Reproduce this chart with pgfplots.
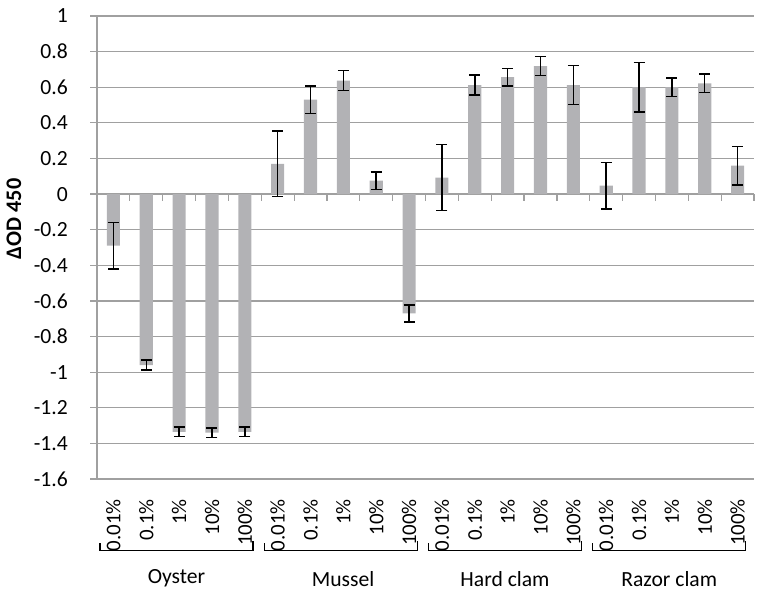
\documentclass[border=0pt]{standalone}
\usepackage{pgfplots}
\usepackage{pgfplotstable}
\pgfplotsset{compat=1.18}
\usepackage{fontspec}
\setmainfont{Carlito}
\definecolor{bargray}{RGB}{178,178,181}
\definecolor{gridgray}{RGB}{160,160,160}
\newcommand{\bigfont}{\fontsize{21.7}{26}\selectfont}
\newcommand{\xfont}{\fontsize{21}{25}\selectfont}

\pgfplotstableread{
x y e
0 -0.29 0.13
1 -0.96 0.028
2 -1.335 0.027
3 -1.34 0.026
4 -1.335 0.026
5 0.17 0.185
6 0.53 0.077
7 0.637 0.056
8 0.075 0.049
9 -0.67 0.047
10 0.092 0.185
11 0.612 0.056
12 0.657 0.049
13 0.719 0.053
14 0.612 0.109
15 0.047 0.13
16 0.60 0.14
17 0.60 0.052
18 0.621 0.052
19 0.16 0.108
}\datatable

\begin{document}
\begin{tikzpicture}
\path[use as bounding box] (0,0) rectangle (764bp,598bp);
\begin{axis}[
  at={(97bp,119bp)}, anchor=south west,
  scale only axis, width=657bp, height=463bp,
  ymin=-1.6, ymax=1, xmin=-0.5, xmax=19.5,
  ytick={-1.6,-1.4,-1.2,-1,-0.8,-0.6,-0.4,-0.2,0,0.2,0.4,0.6,0.8,1},
  /pgf/number format/assume math mode=true,
  xtick={0,...,19},
  xticklabels={0.01\%,0.1\%,1\%,10\%,100\%,0.01\%,0.1\%,1\%,10\%,100\%,0.01\%,0.1\%,1\%,10\%,100\%,0.01\%,0.1\%,1\%,10\%,100\%},
  xticklabel style={rotate=90, anchor=east, inner sep=0pt, font=\xfont},
  xticklabel shift=13bp,
  yticklabel style={anchor=east, inner sep=0pt, font=\bigfont},
  yticklabel shift=22bp,
  axis y line*=left, axis x line*=bottom,
  axis line style={gridgray, line width=1.2bp},
  x axis line style={-}, y axis line style={-},
  ymajorgrids, grid style={gridgray, line width=1.2bp},
  major x tick style={draw=none},
  major y tick style={gridgray, line width=1.2bp},
  tick align=outside, major tick length=7bp,
  tick label style={black},
  ylabel={\textbf{ΔOD 450}},
  ylabel style={at={(axis description cs:-0.11,0.5616)}, anchor=south, font=\fontsize{22.3}{26}\selectfont},
  clip=false,
]
\addplot[ybar, bar width=0.4, fill=bargray, draw=none,
  error bars/.cd, y dir=both, y explicit,
  error bar style={black, line width=1.5bp},
  error mark options={rotate=90, mark size=5.5bp, black, line width=1.5bp}]
  table[x=x, y=y, y error=e] {\datatable};
\pgfplotsinvokeforeach{0.5,1.5,2.5,3.5,4.5,5.5,6.5,7.5,8.5,9.5,10.5,11.5,12.5,13.5,14.5,15.5,16.5,17.5,18.5,19.5}{
  \draw[gridgray, line width=1.2bp] (axis cs:#1,0) -- ([yshift=-7bp]axis cs:#1,0);
}
\pgfplotsinvokeforeach{0,5,10,15}{
  \draw[black, line width=1.2bp] ([yshift=7bp]axis cs:#1-0.41,-2.0) -- (axis cs:#1-0.41,-2.0) -- (axis cs:#1+4.25,-2.0) -- ([yshift=9bp]axis cs:#1+4.25,-2.0);
}
\node[font=\bigfont, anchor=center] at (axis cs:1.92,-2.16) {Oyster};
\node[font=\bigfont, anchor=center] at (axis cs:6.99,-2.16) {Mussel};
\node[font=\bigfont, anchor=center] at (axis cs:11.92,-2.16) {Hard clam};
\node[font=\bigfont, anchor=center] at (axis cs:16.92,-2.16) {Razor clam};
\end{axis}
\end{tikzpicture}
\end{document}
